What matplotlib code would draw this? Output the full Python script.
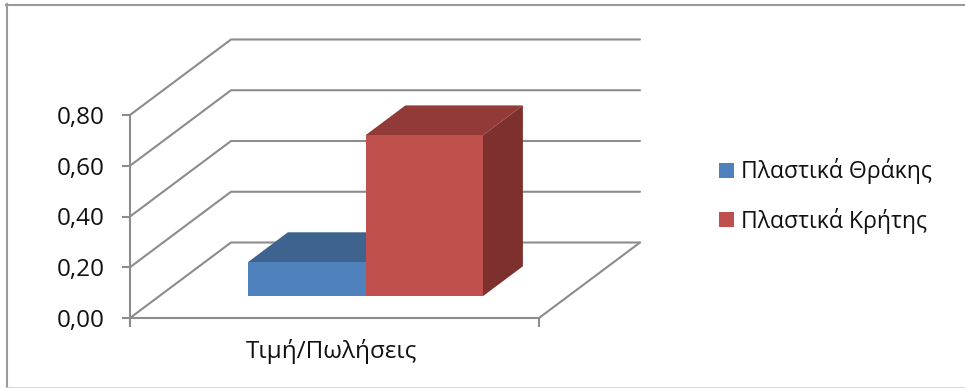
import matplotlib
matplotlib.use("Agg")
import matplotlib.pyplot as plt
from matplotlib.lines import Line2D
from matplotlib.patches import Patch, Polygon, Rectangle

# chart values
categories = ["Τιμή/Πωλήσεις"]
series_names = ["Πλαστικά Θράκης", "Πλαστικά Κρήτης"]
series_values = [0.134, 0.634]
y_ticks = [0.0, 0.2, 0.4, 0.6, 0.8]

W, H = 965, 388
GRID = "#8c8c8c"
TEXT = "#111111"
front = ["#4f81bd", "#c0504d"]
top = ["#3e638f", "#923a38"]
side = ["#355578", "#7d302e"]

plt.rcParams["font.family"] = ["Open Sans", "DejaVu Sans"]

fig = plt.figure(figsize=(W / 100, H / 100), dpi=100)

# outer frame: top and left dark, bottom faint, no right edge
fig.add_artist(Line2D([6 / W, 1], [1 - 4.5 / H, 1 - 4.5 / H], color="#9a9a9a", lw=1.5))
fig.add_artist(Line2D([6.5 / W, 6.5 / W], [1 - 4 / H, 0], color="#9a9a9a", lw=1.5))
fig.add_artist(Line2D([6 / W, 1], [1 - 387.5 / H, 1 - 387.5 / H], color="#d0d0d0", lw=1.2))

ax = fig.add_axes([130 / W, 1 - 318 / H, 409 / W, 203 / H])
ax.set_xlim(0, 1)
ax.set_ylim(0, 0.8)
ax.patch.set_visible(False)

# depth direction of the floor, in data units
depth_x = 101 / 409
depth_y = 75.5 / 203 * 0.8


def back_line(pts, color=GRID, lw=1.5):
    xs, ys = zip(*pts)
    ax.plot(xs, ys, color=color, lw=lw, clip_on=False, solid_capstyle="round", zorder=1)


for t in y_ticks:
    back_line([(0, t), (depth_x, t + depth_y), (1 + depth_x, t + depth_y)])
back_line([(1, 0), (1 + depth_x, depth_y)])

# one box per series, front face then top and side
bar_w = 117.5 / 409
bar_d = 0.395
start_d = 0.29
x0 = 118 / 409
for i, val in enumerate(series_values):
    xl = x0 + i * bar_w
    xr = xl + bar_w
    yb = start_d * depth_y
    yt = yb + val
    dx, dy = bar_d * depth_x, bar_d * depth_y
    ax.add_patch(Polygon([(xl, yt), (xr, yt), (xr + dx, yt + dy), (xl + dx, yt + dy)],
                         fc=top[i], ec="none", clip_on=False, zorder=3 + i))
    ax.add_patch(Polygon([(xr, yb), (xr + dx, yb + dy), (xr + dx, yt + dy), (xr, yt)],
                         fc=side[i], ec="none", clip_on=False, zorder=3 + i))
    ax.add_patch(Rectangle((xl, yb), bar_w, val, fc=front[i], ec="none",
                           clip_on=False, zorder=3 + i))

for name in ["top", "right"]:
    ax.spines[name].set_visible(False)
for name in ["left", "bottom"]:
    ax.spines[name].set_color(GRID)
    ax.spines[name].set_linewidth(1.5)
    ax.spines[name].set_zorder(2)

ax.set_yticks(y_ticks)
ax.set_yticklabels([f"{t:.2f}".replace(".", ",") for t in y_ticks], fontsize=17.5, color=TEXT)
ax.tick_params(axis="y", length=6, width=1.5, color=GRID, pad=12)
ax.set_xticks([0, 1])
ax.set_xticklabels(["", ""])
ax.tick_params(axis="x", which="major", length=6.5, width=1.5, color=GRID)
ax.set_xticks([0.493], minor=True)
ax.set_xticklabels(categories, minor=True, fontsize=17.5, color=TEXT)
ax.tick_params(axis="x", which="minor", length=0, pad=15)

handles = [Patch(fc=c, ec="none") for c in front]
fig.legend(handles, series_names, loc="center left", bbox_to_anchor=(719 / W, 1 - 196 / H),
           frameon=False, fontsize=16.6, labelcolor=TEXT, handlelength=0.65, handleheight=0.65,
           handletextpad=0.3, labelspacing=1.0, borderpad=0, borderaxespad=0)

fig.savefig("out.png", dpi=100)
